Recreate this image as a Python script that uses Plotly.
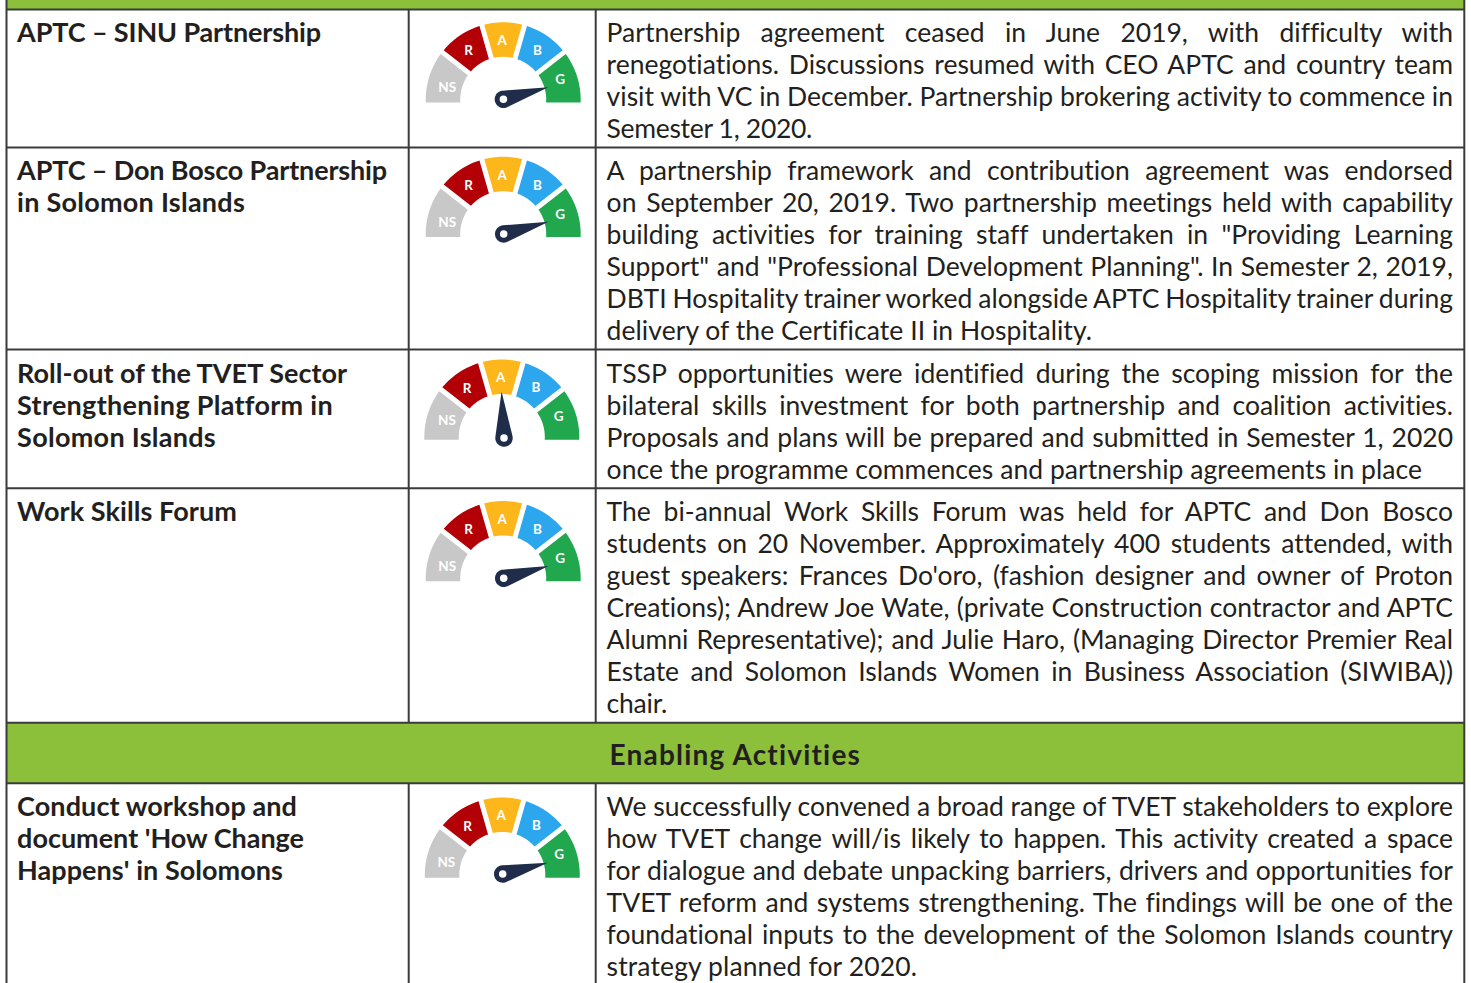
import json, math
import plotly.graph_objects as go

W, H = 1471, 983
# ---- content ----
band_text = "Enabling Activities"
title_lines = [
    ("APTC – SINU Partnership", 32, 321),
    ("APTC – Don Bosco Partnership", 170, 387),
    ("in Solomon Islands", 202, 245),
    ("Roll-out of the TVET Sector", 373, 347),
    ("Strengthening Platform in", 405, 333),
    ("Solomon Islands", 437, 216),
    ("Work Skills Forum", 511, 237),
    ("Conduct workshop and", 806, 297),
    ("document 'How Change", 838, 304),
    ("Happens' in Solomons", 870, 283),
]
J = 1453
body_lines = [
    ("Partnership agreement ceased in June 2019, with difficulty with", 32, J),
    ("renegotiations. Discussions resumed with CEO APTC and country team", 64, J),
    ("visit with VC in December. Partnership brokering activity to commence in", 96, J),
    ("Semester 1, 2020.", 128, 812),
    ("A partnership framework and contribution agreement was endorsed", 170, J),
    ("on September 20, 2019. Two partnership meetings held with capability", 202, J),
    ("building activities for training staff undertaken in \"Providing Learning", 234, J),
    ("Support\" and \"Professional Development Planning\". In Semester 2, 2019,", 266, J),
    ("DBTI Hospitality trainer worked alongside APTC Hospitality trainer during", 298, J),
    ("delivery of the Certificate II in Hospitality.", 330, 1092),
    ("TSSP opportunities were identified during the scoping mission for the", 373, J),
    ("bilateral skills investment for both partnership and coalition activities.", 405, J),
    ("Proposals and plans will be prepared and submitted in Semester 1, 2020", 437, J),
    ("once the programme commences and partnership agreements in place", 469, 1422),
    ("The bi-annual Work Skills Forum was held for APTC and Don Bosco", 511, J),
    ("students on 20 November. Approximately 400 students attended, with", 543, J),
    ("guest speakers: Frances Do'oro, (fashion designer and owner of Proton", 575, J),
    ("Creations); Andrew Joe Wate, (private Construction contractor and APTC", 607, J),
    ("Alumni Representative); and Julie Haro, (Managing Director Premier Real", 639, J),
    ("Estate and Solomon Islands Women in Business Association (SIWIBA))", 671, J),
    ("chair.", 703, 667),
    ("We successfully convened a broad range of TVET stakeholders to explore", 806, J),
    ("how TVET change will/is likely to happen. This activity created a space", 838, J),
    ("for dialogue and debate unpacking barriers, drivers and opportunities for", 870, J),
    ("TVET reform and systems strengthening. The findings will be one of the", 902, J),
    ("foundational inputs to the development of the Solomon Islands country", 934, J),
    ("strategy planned for 2020.", 966, 917),
]
# ---- gauges ----
seg_labels = ["NS", "R", "A", "B", "G"]
seg_colors = ["#c9c8c9", "#b20006", "#fdb71a", "#2ca7ee", "#21a84f"]
seg_edges = [0, 38, 74, 106, 142, 180]
label_theta = [169, 126, 91, 54.5, 18.5]
label_theta_g3 = [164, 126, 91, 54.5, 18.5]
label_r = [57, 59, 58, 59, 60]
gauge_cx = [503.2, 503.2, 501.8, 503.2, 502.3]
gauge_cy = [99.8, 234.2, 437.0, 578.5, 875.0]
hub_cx = [503.4, 503.7, 504.0, 503.7, 502.7]
hub_cy = [99.3, 234.0, 438.0, 578.3, 874.0]
needle_deg = [15, 15.4, 93, 15.4, 14]
# ---- table ----
h_lines = [9.5, 147.5, 349.5, 488.3, 722.7, 783.3]
v_lines = [6.5, 408.7, 595.7, 1464.3]
band_rows = [(0, 9.5), (722.7, 783.3)]
line_col = "#3b3a3c"
band_col = "#8dc03a"
text_col = "#231f20"
R_OUT, R_IN, GAP, FOOT = 77.5, 43.0, 2.5, -2.8
VIEW_R, HUB_VIEW = 80, 50
FS_BODY, FS_TITLE, FS_BAND = 26.5, 27, 28
BASE_DY = 10.0


def px(x):
    return x / W


def py(y):
    return 1 - y / H


def seg_poly(lo, hi, lo_gap, hi_gap, n=14):
    th, rr = [], []
    for i in range(n + 1):
        a0 = lo + math.degrees(math.asin(lo_gap / R_OUT))
        a1 = hi - math.degrees(math.asin(hi_gap / R_OUT))
        th.append(a0 + (a1 - a0) * i / n)
        rr.append(R_OUT)
    for i in range(n, -1, -1):
        a0 = lo + math.degrees(math.asin(lo_gap / R_IN))
        a1 = hi - math.degrees(math.asin(hi_gap / R_IN))
        th.append(a0 + (a1 - a0) * i / n)
        rr.append(R_IN)
    th.append(th[0])
    rr.append(rr[0])
    return th, rr


fig = go.Figure()
layout_polar = {}
idx = 1
for g in range(len(gauge_cx)):
    # segments subplot
    sub = "polar" if idx == 1 else f"polar{idx}"
    layout_polar[sub] = dict(
        domain=dict(x=[px(gauge_cx[g] - VIEW_R), px(gauge_cx[g] + VIEW_R)],
                    y=[py(gauge_cy[g] + VIEW_R), py(gauge_cy[g] - VIEW_R)]),
        bgcolor="rgba(0,0,0,0)",
        radialaxis=dict(visible=False, range=[0, VIEW_R]),
        angularaxis=dict(visible=False, rotation=0, direction="counterclockwise"),
    )
    for s in range(5):
        lo_gap = FOOT if s == 4 else GAP
        hi_gap = FOOT if s == 0 else GAP
        # segments are listed from left (NS) to right (G), angles from the right
        lo, hi = seg_edges[4 - s], seg_edges[5 - s]
        th, rr = seg_poly(lo, hi, lo_gap, hi_gap)
        fig.add_trace(go.Scatterpolar(theta=th, r=rr, subplot=sub, mode="lines",
                                      fill="toself", fillcolor=seg_colors[s],
                                      line=dict(width=0, color=seg_colors[s]),
                                      hoverinfo="skip", showlegend=False))
    fig.add_trace(go.Scatterpolar(theta=label_theta_g3 if g == 2 else label_theta, r=label_r,
                                  subplot=sub, mode="text", text=seg_labels,
                                  textfont=dict(family="Lato", size=13.5, color="white", weight=700),
                                  hoverinfo="skip", showlegend=False))
    idx += 1
    # needle subplot
    sub = f"polar{idx}"
    layout_polar[sub] = dict(
        domain=dict(x=[px(hub_cx[g] - HUB_VIEW), px(hub_cx[g] + HUB_VIEW)],
                    y=[py(hub_cy[g] + HUB_VIEW), py(hub_cy[g] - HUB_VIEW)]),
        bgcolor="rgba(0,0,0,0)",
        radialaxis=dict(visible=False, range=[0, HUB_VIEW]),
        angularaxis=dict(visible=False, rotation=0, direction="counterclockwise"),
    )
    a = needle_deg[g]
    th = [a] + [a + 80 + 200 * i / 24 for i in range(25)] + [a]
    rr = [46.5] + [8.7] * 25 + [46.5]
    fig.add_trace(go.Scatterpolar(theta=th, r=rr, subplot=sub, mode="lines", fill="toself",
                                  fillcolor="#1f2d4a", line=dict(width=0, color="#1f2d4a"),
                                  hoverinfo="skip", showlegend=False))
    fig.add_trace(go.Scatterpolar(theta=[0], r=[0], subplot=sub, mode="markers",
                                  marker=dict(size=7.5, color="white"),
                                  hoverinfo="skip", showlegend=False))
    idx += 1

shapes = []
for y0, y1 in band_rows:
    shapes.append(dict(type="rect", xref="paper", yref="paper", x0=px(v_lines[0]), x1=px(v_lines[-1]),
                       y0=py(y1), y1=min(py(y0), 1), fillcolor=band_col, line=dict(width=0), layer="below"))
band_top, band_bot = band_rows[1]
for y in h_lines:
    shapes.append(dict(type="line", xref="paper", yref="paper", x0=px(v_lines[0]), x1=px(v_lines[-1]),
                       y0=py(y), y1=py(y), line=dict(color=line_col, width=2), layer="below"))
for x in v_lines:
    if x in (v_lines[0], v_lines[-1]):
        segs = [(0, H)]
    else:
        segs = [(h_lines[0], band_top), (band_bot, H)]
    for y0, y1 in segs:
        shapes.append(dict(type="line", xref="paper", yref="paper", x0=px(x), x1=px(x),
                           y0=py(y0), y1=py(y1), line=dict(color=line_col, width=2), layer="below"))

annotations = []
targets = []
LEFT_T, LEFT_B = 17.5, 607
for txt, y, xr in title_lines:
    annotations.append(dict(text=txt, x=px(LEFT_T), y=py(y), xref="paper", yref="paper",
                            xanchor="left", yanchor="middle", showarrow=False,
                            font=dict(family="Lato", size=FS_TITLE, color=text_col, weight=700)))
    targets.append([LEFT_T, xr, "letter", y + BASE_DY])
for txt, y, xr in body_lines:
    annotations.append(dict(text=txt, x=px(LEFT_B), y=py(y), xref="paper", yref="paper",
                            xanchor="left", yanchor="middle", showarrow=False,
                            font=dict(family="Lato", size=FS_BODY, color=text_col)))
    targets.append([LEFT_B, xr, "word" if xr == J else "letter", y + BASE_DY])
annotations.append(dict(text=band_text, x=px(610), y=py(755), xref="paper", yref="paper",
                        xanchor="left", yanchor="middle", showarrow=False,
                        font=dict(family="Lato", size=FS_BAND, color=text_col, weight=700)))
targets.append([610, 861, "letter", 755 + BASE_DY])

fig.update_layout(width=W, height=H, margin=dict(l=0, r=0, t=0, b=0),
                  paper_bgcolor="white", plot_bgcolor="white", showlegend=False,
                  shapes=shapes, annotations=annotations, **layout_polar)

post = """
document.body.style.margin = '0';
document.documentElement.style.overflow = 'hidden';
var targets = %s;
var gd = document.getElementById('{plot_id}');
var nodes = gd.querySelectorAll('.annotation-text');
nodes.forEach(function (t, i) {
  var tg = targets[i];
  if (!tg) return;
  var m = t.getCTM();
  t.setAttribute('text-anchor', 'start');
  t.setAttribute('x', tg[0] - 0.4 - m.e);
  t.setAttribute('y', tg[3] - m.f);
  t.style.fontVariantLigatures = 'none';
  var s = t.textContent;
  var len = t.getComputedTextLength();
  var want = tg[1] - tg[0] + 0.4;
  if (tg[2] === 'word') {
    var n = (s.match(/ /g) || []).length;
    if (n) t.style.wordSpacing = ((want - len) / n) + 'px';
  } else if (s.length > 1) {
    t.style.letterSpacing = ((want - len) / s.length) + 'px';
  }
});
""" % json.dumps(targets)

fig.write_html("out.html", post_script=post, config=dict(displayModeBar=False))
